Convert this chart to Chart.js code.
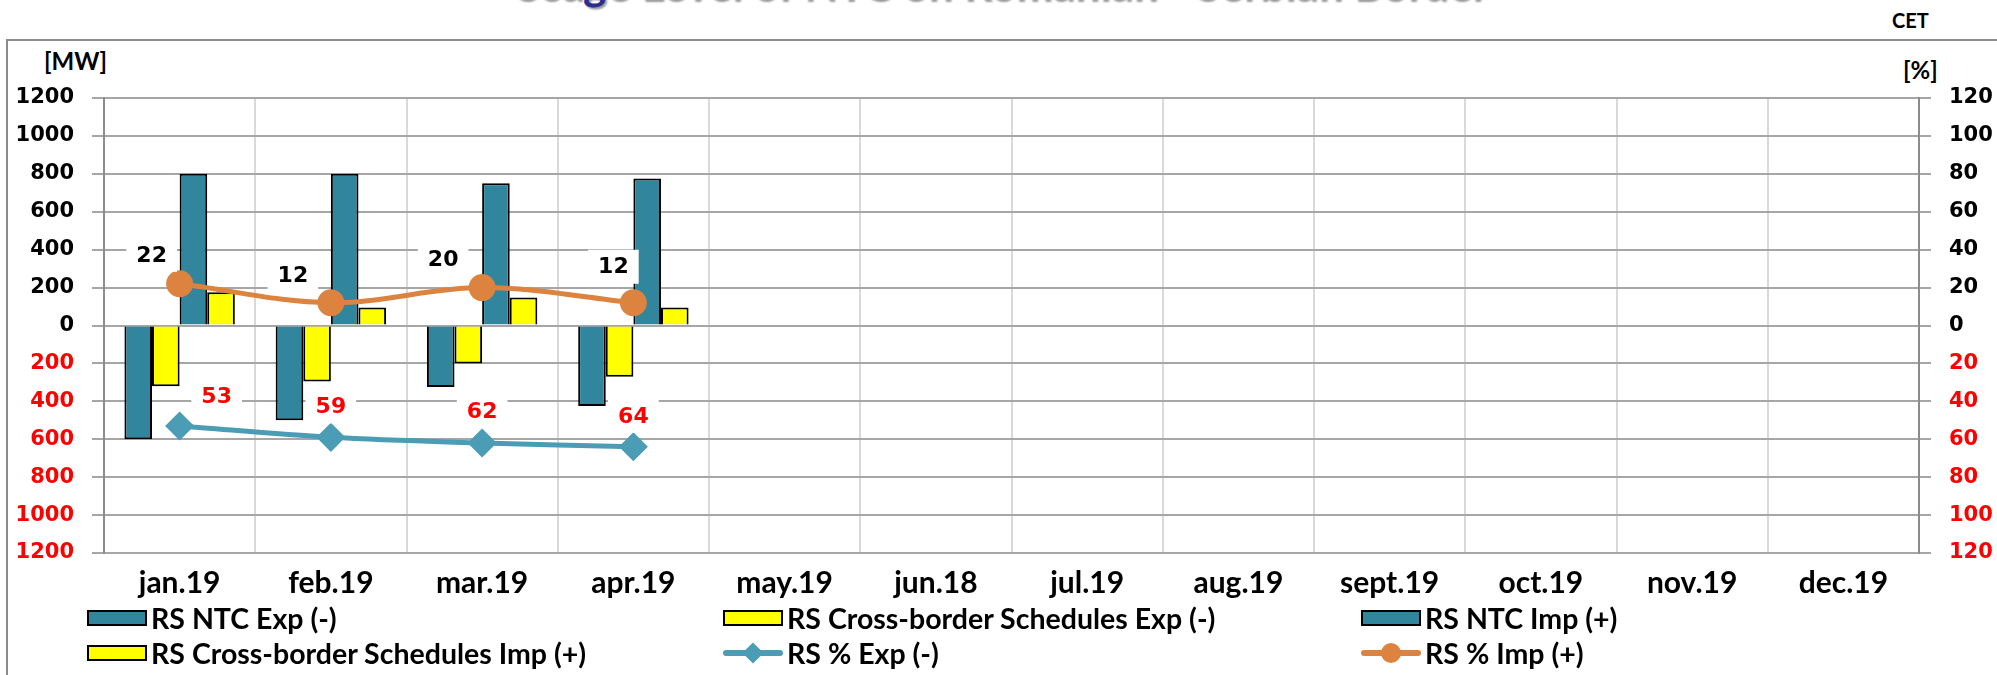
<!DOCTYPE html>
<html lang="en">

<head>
    <meta charset="UTF-8">
    <title>RS NTC usage</title>
    <style>
        html, body { margin: 0; padding: 0; background: #fff; }
        body { width: 1997px; height: 675px; position: relative; overflow: hidden; font-family: Lato, "Liberation Sans", sans-serif; }
        #frame { position: absolute; left: 6px; top: 39px; width: 2100px; height: 700px; border: 2px solid #8c8c8c; box-sizing: border-box; }
        #myChart { position: absolute; left: 0; top: 0; }
        .txt { position: absolute; font-weight: bold; color: #000; white-space: nowrap; }
        #title { left: 0; width: 1997px; text-align: center; top: -43px; font-size: 44px; color: #2b2e8f; text-shadow: 2px 2px 2px #9a9a9a; }
        #legend { position: absolute; left: 87px; top: 602px; display: grid; grid-template-columns: 636px 638px 500px; row-gap: 4px; }
        .item { display: flex; align-items: center; height: 31px; font-size: 28.5px; font-weight: bold; }
        .sw { width: 60px; height: 16px; margin-right: 4px; position: relative; }
        .box { box-sizing: border-box; border: 2px solid #000; }
        .ln { position: absolute; left: 0; right: 0; top: 5px; height: 6px; border-radius: 3px; }
        .mk { position: absolute; left: 20px; top: -2px; width: 20px; height: 20px; }
    </style>
</head>

<body>
    <div id="frame"></div>
    <div id="title" class="txt">Usage Level of NTC on Romanian - Serbian Border</div>
    <div class="txt" style="left:1892px; top:8px; font-size:20px;">CET</div>
    <div class="txt" style="left:44px; top:46px; font-size:24px;">[MW]</div>
    <div class="txt" style="left:1903px; top:55px; font-size:24px;">[%]</div>
    <canvas id="myChart" width="1997" height="675"></canvas>
    <div id="legend"></div>

    <script src="https://cdn.jsdelivr.net/npm/chart.js"></script>
    <script>
        // months on the x axis
        const months = ['jan.19', 'feb.19', 'mar.19', 'apr.19', 'may.19', 'jun.18',
            'jul.19', 'aug.19', 'sept.19', 'oct.19', 'nov.19', 'dec.19'];

        // MW values (export is negative)
        const ntcExp = [-600, -500, -325, -425];
        const cbExp = [-320, -295, -200, -270];
        const ntcImp = [800, 800, 750, 775];
        const cbImp = [175, 95, 148, 95];

        // usage in %
        const pctExp = [53, 59, 62, 64];
        const pctImp = [22, 12, 20, 12];

        // axis ranges
        const mwMin = -1200, mwMax = 1200, mwStep = 200;
        const pctMin = -120, pctMax = 120, pctStep = 20;

        const teal = '#31859c';
        const yellow = '#ffff00';
        const expLine = '#4a9db5';
        const impLine = '#dc8340';
        const red = '#ff0000';

        const tickFont = { family: '"DejaVu Sans"', size: 21, weight: 'bold' };
        const tickColor = (c) => c.tick.value < 0 ? red : '#000';

        // where the value boxes sit relative to their point
        const labelOffsets = {
            4: [[37, -30], [0, -31], [0, -32], [0, -31]],
            5: [[-28, -29], [-38, -27], [-39, -28], [-20, -36]]
        };

        const valueLabels = {
            id: 'valueLabels',
            afterDatasetsDraw(chart) {
                const c = chart.ctx;
                c.save();
                c.font = 'bold 22px "DejaVu Sans"';
                c.textAlign = 'center';
                c.textBaseline = 'middle';
                Object.keys(labelOffsets).forEach(k => {
                    const idx = Number(k);
                    const meta = chart.getDatasetMeta(idx);
                    const ds = chart.data.datasets[idx];
                    meta.data.forEach((pt, i) => {
                        const txt = String(Math.abs(ds.data[i]));
                        const x = pt.x + labelOffsets[k][i][0];
                        const y = pt.y + labelOffsets[k][i][1];
                        const w = c.measureText(txt).width + 20;
                        c.fillStyle = '#fff';
                        c.fillRect(x - w / 2, y - 17, w, 34);
                        c.fillStyle = idx === 4 ? red : '#000';
                        c.fillText(txt, x, y + 1);
                    });
                });
                c.restore();
            }
        };

        let ctx = document.getElementById('myChart');
        let chart = new Chart(ctx, {
            type: 'bar',
            data: {
                labels: months,
                datasets: [{
                    label: 'RS NTC Exp (-)',
                    data: ntcExp,
                    backgroundColor: teal,
                    borderColor: '#000',
                    borderWidth: 2,
                    order: 1
                }, {
                    label: 'RS Cross-border Schedules Exp (-)',
                    data: cbExp,
                    backgroundColor: yellow,
                    borderColor: '#000',
                    borderWidth: 2,
                    order: 1
                }, {
                    label: 'RS NTC Imp (+)',
                    data: ntcImp,
                    backgroundColor: teal,
                    borderColor: '#000',
                    borderWidth: 2,
                    order: 1
                }, {
                    label: 'RS Cross-border Schedules Imp (+)',
                    data: cbImp,
                    backgroundColor: yellow,
                    borderColor: '#000',
                    borderWidth: 2,
                    order: 1
                }, {
                    type: 'line',
                    label: 'RS % Exp (-)',
                    data: pctExp.map(v => -v),
                    yAxisID: 'y1',
                    borderColor: expLine,
                    backgroundColor: expLine,
                    borderWidth: 5,
                    pointStyle: 'rectRot',
                    pointRadius: 11,
                    tension: 0.35,
                    order: 0
                }, {
                    type: 'line',
                    label: 'RS % Imp (+)',
                    data: pctImp,
                    yAxisID: 'y1',
                    borderColor: impLine,
                    backgroundColor: impLine,
                    borderWidth: 5,
                    pointStyle: 'circle',
                    pointRadius: 11,
                    tension: 0.35,
                    order: 0
                }]
            },
            options: {
                responsive: false,
                animation: false,
                layout: { padding: { top: 98, left: 0, right: 0, bottom: 0 } },
                datasets: {
                    bar: { categoryPercentage: 0.73, barPercentage: 1.0 }
                },
                plugins: {
                    legend: { display: false },
                    tooltip: { enabled: false }
                },
                scales: {
                    x: {
                        grid: { offset: true, color: '#d9d9d9', lineWidth: 2, drawTicks: false },
                        border: { display: false },
                        ticks: {
                            color: '#000',
                            padding: 12,
                            maxRotation: 0,
                            font: { family: 'Lato', size: 30, weight: 'bold' }
                        },
                        afterFit: (s) => { s.height = 122; }
                    },
                    y: {
                        position: 'left',
                        min: mwMin,
                        max: mwMax,
                        ticks: {
                            stepSize: mwStep,
                            padding: 18,
                            color: tickColor,
                            font: tickFont,
                            callback: (v) => Math.abs(v)
                        },
                        grid: { color: '#a6a6a6', lineWidth: 2, tickLength: 12 },
                        border: { color: '#8c8c8c', width: 2 },
                        afterFit: (s) => { s.width = 104; }
                    },
                    y1: {
                        position: 'right',
                        min: pctMin,
                        max: pctMax,
                        ticks: {
                            stepSize: pctStep,
                            padding: 18,
                            color: tickColor,
                            font: tickFont,
                            callback: (v) => Math.abs(v)
                        },
                        grid: { drawOnChartArea: false, color: '#a6a6a6', lineWidth: 2, tickLength: 12 },
                        border: { color: '#8c8c8c', width: 2 },
                        afterFit: (s) => { s.width = 78; }
                    }
                }
            },
            plugins: [valueLabels]
        });

        // legend in three columns under the axis
        const legend = document.getElementById('legend');
        chart.data.datasets.forEach(ds => {
            const item = document.createElement('div');
            item.className = 'item';
            const sw = document.createElement('div');
            sw.className = 'sw';
            if (ds.type === 'line') {
                const ln = document.createElement('div');
                ln.className = 'ln';
                ln.style.background = ds.borderColor;
                const mk = document.createElement('div');
                mk.className = 'mk';
                mk.style.background = ds.borderColor;
                if (ds.pointStyle === 'circle') {
                    mk.style.borderRadius = '50%';
                } else {
                    mk.style.transform = 'rotate(45deg) scale(0.75)';
                }
                sw.appendChild(ln);
                sw.appendChild(mk);
            } else {
                sw.classList.add('box');
                sw.style.background = ds.backgroundColor;
            }
            item.appendChild(sw);
            item.appendChild(document.createTextNode(ds.label));
            legend.appendChild(item);
        });
    </script>
</body>

</html>
